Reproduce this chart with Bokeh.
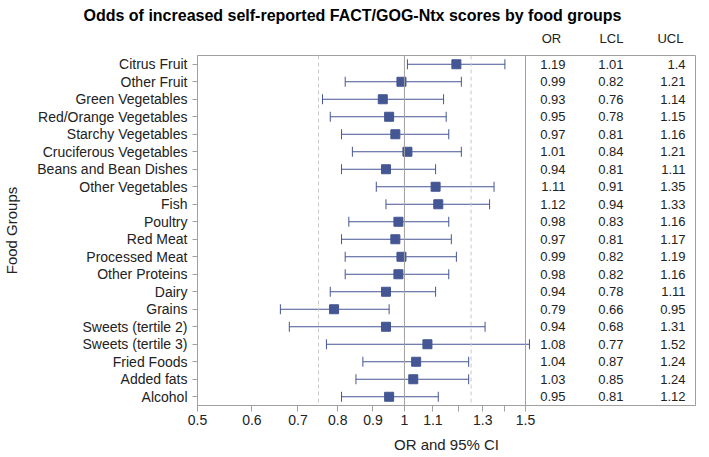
import math
from bokeh.plotting import figure
from bokeh.models import (ColumnDataSource, Range1d, FactorRange, FixedTicker, LogAxis,
                          Span, Whisker, TeeHead)
from bokeh.embed import file_html
from bokeh.resources import INLINE
from bokeh.core.properties import value

# ---------------- data ----------------
categories = [
    "Citrus Fruit", "Other Fruit", "Green Vegetables", "Red/Orange Vegetables",
    "Starchy Vegetables", "Cruciferous Vegetables", "Beans and Bean Dishes",
    "Other Vegetables", "Fish", "Poultry", "Red Meat", "Processed Meat",
    "Other Proteins", "Dairy", "Grains", "Sweets (tertile 2)", "Sweets (tertile 3)",
    "Fried Foods", "Added fats", "Alcohol",
]
or_values = [1.19, 0.99, 0.93, 0.95, 0.97, 1.01, 0.94, 1.11, 1.12, 0.98,
             0.97, 0.99, 0.98, 0.94, 0.79, 0.94, 1.08, 1.04, 1.03, 0.95]
lcl_values = [1.01, 0.82, 0.76, 0.78, 0.81, 0.84, 0.81, 0.91, 0.94, 0.83,
              0.81, 0.82, 0.82, 0.78, 0.66, 0.68, 0.77, 0.87, 0.85, 0.81]
ucl_values = [1.40, 1.21, 1.14, 1.15, 1.16, 1.21, 1.11, 1.35, 1.33, 1.16,
              1.17, 1.19, 1.16, 1.11, 0.95, 1.31, 1.52, 1.24, 1.24, 1.12]
x_ticks = [0.5, 0.6, 0.7, 0.8, 0.9, 1.0, 1.1, 1.2, 1.3, 1.4, 1.5]
x_tick_labels = ["0.5", "0.6", "0.7", "0.8", "0.9", "1", "1.1", "", "1.3", "", "1.5"]
table_headers = ["OR", "LCL", "UCL"]
dashed_refs = [0.75, 1.25]
null_value = 1.0

title_text = "Odds of increased self-reported FACT/GOG-Ntx scores by food groups"
x_label = "OR and 95% CI"
y_label = "Food Groups"

# ---------------- layout / style ----------------
FONT = "Liberation Sans"
BLUE = "#445694"
GREY = "#A0A0A0"
LIGHT = "#C8C8C8"
TEXT = "#222222"

FRAME_W, FRAME_H = 498, 350
AXIS_PX = 328                       # pixels of frame used by the 0.5..1.5 log axis
X0, X1 = x_ticks[0], x_ticks[-1]

def px_to_x(px):
    """pixel offset from frame left -> data value on the log axis"""
    return X0 * (X1 / X0) ** (px / AXIS_PX)

x_end = px_to_x(FRAME_W)
val_px = [368, 426, 488]            # right edges of table value columns
hdr_px = [354, 414, 473]            # centres of table headers
val_x = [px_to_x(v) for v in val_px]
hdr_x = [px_to_x(v) for v in hdr_px]

def fmt(v):
    return f"{v:g}"

src = ColumnDataSource(dict(
    cat=categories, orv=or_values, lcl=lcl_values, ucl=ucl_values,
    or_txt=[fmt(v) for v in or_values],
    lcl_txt=[fmt(v) for v in lcl_values],
    ucl_txt=[fmt(v) for v in ucl_values],
))

p = figure(
    x_axis_type="log",
    x_range=Range1d(X0, x_end),
    y_range=FactorRange(factors=list(reversed(categories))),
    frame_width=FRAME_W, frame_height=FRAME_H,
    min_border_left=194, min_border_right=1, min_border_top=46, min_border_bottom=45,
    output_backend="svg", toolbar_location=None,
    title=title_text,
)
p.outline_line_color = GREY
p.xgrid.visible = False
p.ygrid.visible = False
p.background_fill_color = "white"
p.border_fill_color = "white"

p.title.text_font = FONT
p.title.text_font_size = "16px"
p.title.text_font_style = "bold"
p.title.text_color = "#000000"
p.title.align = "left"
p.title.offset = -114
p.title.standoff = 8

# x axis
xa = p.xaxis[0]
xa.ticker = FixedTicker(ticks=x_ticks, minor_ticks=[])
xa.major_label_overrides = {t: lab for t, lab in zip(x_ticks, x_tick_labels)}
xa.axis_label = x_label
xa.axis_label_text_font = FONT
xa.axis_label_text_font_size = "15px"
xa.axis_label_text_font_style = "normal"
xa.axis_label_text_color = TEXT
xa.axis_label_standoff = 8
xa.major_label_text_font = FONT
xa.major_label_text_font_size = "14px"
xa.major_label_text_color = TEXT
xa.major_label_standoff = 3
xa.major_tick_out = 6
xa.major_tick_in = 0
xa.axis_line_color = GREY
xa.major_tick_line_color = GREY

# y axis
ya = p.yaxis[0]
ya.axis_label = y_label
ya.axis_label_text_font = FONT
ya.axis_label_text_font_size = "15px"
ya.axis_label_text_font_style = "normal"
ya.axis_label_text_color = TEXT
ya.axis_label_standoff = 14
ya.major_label_text_font = FONT
ya.major_label_text_font_size = "14px"
ya.major_label_text_color = TEXT
ya.major_label_standoff = 5
ya.major_tick_out = 5
ya.major_tick_in = 0
ya.axis_line_color = GREY
ya.major_tick_line_color = GREY

# table header axis above
top = LogAxis(ticker=FixedTicker(ticks=hdr_x, minor_ticks=[]))
top.major_label_overrides = {x: h for x, h in zip(hdr_x, table_headers)}
top.major_label_text_font = FONT
top.major_label_text_font_size = "13px"
top.major_label_text_color = TEXT
top.major_label_standoff = 10
top.major_tick_out = 0
top.major_tick_in = 0
top.axis_line_color = None
top.major_tick_line_color = None
p.add_layout(top, "above")

# reference lines
for r in dashed_refs:
    p.add_layout(Span(location=r, dimension="height", line_color=LIGHT,
                      line_width=1, line_dash="4 3"))
p.add_layout(Span(location=null_value, dimension="height", line_color=GREY, line_width=1))
p.add_layout(Span(location=X1, dimension="height", line_color=GREY, line_width=1))

# confidence intervals
p.add_layout(Whisker(source=src, base="cat", lower="lcl", upper="ucl", dimension="width",
                     line_color=BLUE, line_width=1,
                     lower_head=TeeHead(size=10, line_color=BLUE, line_width=1),
                     upper_head=TeeHead(size=10, line_color=BLUE, line_width=1)))
p.scatter(x="orv", y="cat", source=src, marker="square", size=9,
          fill_color=BLUE, line_color=BLUE)

# table values
for col, xv in zip(["or_txt", "lcl_txt", "ucl_txt"], val_x):
    p.text(x=xv, y="cat", text=col, source=src, text_align="right",
           text_baseline="middle", text_font=value(FONT), text_font_size="13px",
           text_color=TEXT)

open("out.html", "w").write(file_html(p, INLINE))
